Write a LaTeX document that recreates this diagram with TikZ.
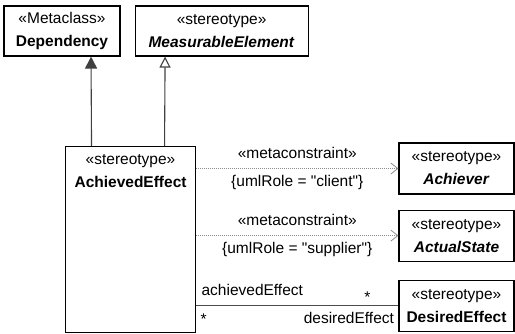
\documentclass[tikz,border=0pt]{standalone}
\usepackage{fontspec}
\setmainfont{Liberation Sans}
\usetikzlibrary{arrows.meta,positioning}

\begin{document}
\begin{tikzpicture}[
    x=1pt, y=-1pt,
    font=\fontsize{15.5}{23}\selectfont,
    classbox/.style={draw, line width=1.1pt, align=center, inner sep=0pt, minimum height=50pt, fill=white},
    titlebox/.style={align=center, inner sep=0pt, minimum height=50pt},
    conlabel/.style={inner sep=0pt, text height=11pt, text depth=3pt},
    extension/.style={draw=black!75, line width=1.1pt, -{Triangle[length=12pt, width=12pt, fill=black!75]}},
    generalization/.style={draw=black!75, line width=1.1pt, -{Triangle[open, length=11pt, width=11pt, fill=white]}},
    metaconstraint/.style={draw=black!45, line width=0.8pt, dash pattern=on 1pt off 1pt, -{Straight Barb[length=7pt, width=11pt]}},
    association/.style={draw=black!70, line width=1pt}
]
\useasboundingbox (0,0) rectangle (515,333);
\node[classbox, minimum width=116pt] (dep) at (62,31) {«Metaclass»\\\textbf{Dependency}};
\node[classbox, minimum width=173pt, right=14pt of dep] (meas) {«stereotype»\\\textbf{\textit{MeasurableElement}}};
\node[classbox, minimum width=130pt, minimum height=186pt, anchor=north west] (ach) at (65,146) {};
\node[titlebox, anchor=north] (achtitle) at (ach.north) {«stereotype»\\\textbf{AchievedEffect}};
\node[classbox, minimum width=115pt, minimum height=51pt] (achiever) at (456.5,168.5) {«stereotype»\\\textbf{\textit{Achiever}}};
\node[classbox, minimum width=115pt, minimum height=51pt, below=15pt of achiever] (actual) {«stereotype»\\\textbf{\textit{ActualState}}};
\node[classbox, minimum width=115pt, minimum height=51pt, below=18pt of actual] (desired) {«stereotype»\\\textbf{DesiredEffect}};
\draw[extension] ([xshift=-39pt]ach.north) -- ([xshift=29pt]dep.south);
\draw[generalization] ([xshift=34pt]ach.north) -- ([xshift=-56.5pt]meas.south);
\draw[metaconstraint] (ach.east |- achiever.west) -- (achiever.west)
    node[conlabel, midway, yshift=14pt] {«metaconstraint»}
    node[conlabel, midway, yshift=-14pt] {\{umlRole = \textquotedbl client\textquotedbl\}};
\draw[metaconstraint] (ach.east |- actual.west) -- (actual.west)
    node[conlabel, midway, yshift=14pt] {«metaconstraint»}
    node[conlabel, midway, yshift=-14pt] {\{umlRole = \textquotedbl supplier\textquotedbl\}};
\draw[association] (ach.east |- desired.west) -- (desired.west)
    node[conlabel, pos=0, anchor=west, xshift=5pt, yshift=14pt] {achievedEffect}
    node[conlabel, pos=0, xshift=7.5pt, yshift=-15pt] {*}
    node[conlabel, pos=1, xshift=-31pt, yshift=7pt] {*}
    node[conlabel, pos=1, anchor=east, xshift=-4pt, yshift=-14pt] {desiredEffect};
\end{tikzpicture}
\end{document}
